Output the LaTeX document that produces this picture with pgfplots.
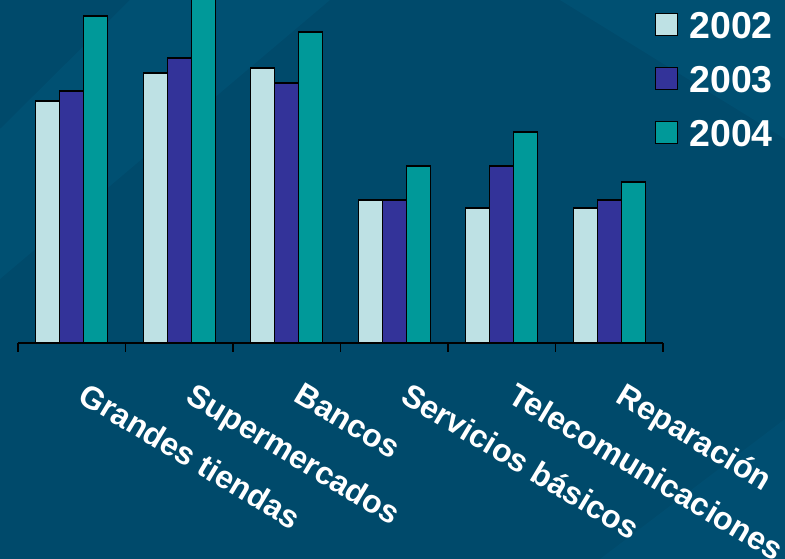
\documentclass[border=0pt]{standalone}
\usepackage{pgfplots}
\pgfplotsset{compat=1.18}
\usepackage{fontspec}
\setmainfont{Liberation Sans}
\definecolor{bg}{RGB}{0,74,107}
\definecolor{bgl}{RGB}{0,86,122}
\definecolor{cA}{RGB}{190,225,228}
\definecolor{cB}{RGB}{51,51,153}
\definecolor{cC}{RGB}{0,153,153}
\pgfplotsset{sq/.style={legend image code/.code={\draw[##1, line width=1.2pt] (0pt,-11pt) rectangle (22pt,11pt);}}}
\begin{document}
\begin{tikzpicture}
\clip (0,0) rectangle (785pt,559pt);
\fill[bg] (0,0) rectangle (785pt,559pt);
\fill[bgl, opacity=0.5] (0pt,430pt) -- (130pt,559pt) -- (330pt,559pt) -- (0pt,280pt) -- cycle;
\fill[bgl, opacity=0.5] (560pt,559pt) -- (785pt,559pt) -- (785pt,420pt) -- cycle;
\fill[bgl, opacity=0.4] (600pt,0pt) -- (785pt,0pt) -- (785pt,140pt) -- cycle;
\begin{axis}[
  at={(18pt,216pt)}, anchor=south west,
  scale only axis, width=645pt, height=343pt,
  xmin=-0.5, xmax=5.5, ymin=0, ymax=343,
  axis x line*=bottom, axis y line=none,
  x axis line style={-, black, line width=1.2pt},
  ybar=0pt, bar width=24pt,
  xtick={0,...,5},
  xticklabels={Grandes tiendas,Supermercados,Bancos,Servicios básicos,Telecomunicaciones,Reparación},
  minor xtick={-0.5,0.5,...,5.5},
  major tick length=0pt, minor tick length=9pt, tick align=outside,
  every tick/.style={black, line width=1.2pt},
  xticklabel style={xshift=17pt, yshift=-38pt, rotate=-31, anchor=north west, text=white,
    font=\fontsize{32}{34}\selectfont\bfseries, inner sep=0pt},
  every axis plot/.append style={draw=black, line width=1.2pt},
  legend style={at={(0.9876,1)}, anchor=north west, draw=none, fill=none, text=white,
    font=\fontsize{37.5}{40}\selectfont\bfseries, yshift=-9pt, xshift=-3pt, row sep=27pt,
    nodes={text height=27pt, text depth=0pt, inner sep=0pt},
    /tikz/every odd column/.append style={column sep=11pt}},
  legend cell align=left,
]
\addplot[fill=cA, sq] coordinates {(0,242) (1,270) (2,275) (3,143) (4,135) (5,135)};
\addplot[fill=cB, sq] coordinates {(0,252) (1,285) (2,260) (3,143) (4,177) (5,143)};
\addplot[fill=cC, sq] coordinates {(0,327) (1,360) (2,311) (3,177) (4,211) (5,161)};
\legend{2002,2003,2004}
\end{axis}
\end{tikzpicture}
\end{document}
